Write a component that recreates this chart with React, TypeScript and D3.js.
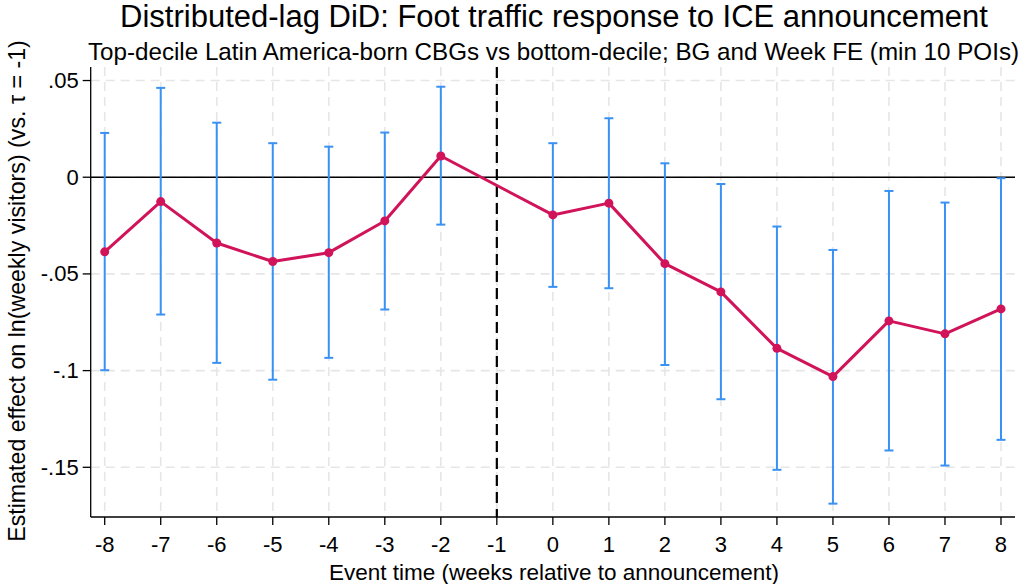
import React from "react";
import * as d3 from "d3";

// Event-study coefficients (reference week tau = -1 omitted)
const eventTimes = [-8, -7, -6, -5, -4, -3, -2, 0, 1, 2, 3, 4, 5, 6, 7, 8];
const estimates = [
  -0.0386, -0.0126, -0.034, -0.0436, -0.039, -0.0226, 0.011, -0.0195, -0.0134,
  -0.0447, -0.0593, -0.0885, -0.1031, -0.0743, -0.081, -0.0681,
];
const ciUpper = [
  0.0229, 0.0462, 0.0282, 0.0176, 0.0158, 0.0231, 0.0468, 0.0176, 0.0305,
  0.0072, -0.0035, -0.0255, -0.0376, -0.0071, -0.0131, -0.0005,
];
const ciLower = [
  -0.0998, -0.071, -0.096, -0.1047, -0.0934, -0.0684, -0.0245, -0.0567, -0.0574,
  -0.0971, -0.1148, -0.1513, -0.1688, -0.1413, -0.1491, -0.1358,
];

const xTicks = [-8, -7, -6, -5, -4, -3, -2, -1, 0, 1, 2, 3, 4, 5, 6, 7, 8];
const yTicks = [0.05, 0, -0.05, -0.1, -0.15];
const yTickLabels = [".05", "0", "-.05", "-.1", "-.15"];
const referencePeriod = -1;

const titleText = "Distributed-lag DiD: Foot traffic response to ICE announcement";
const subtitleText =
  "Top-decile Latin America-born CBGs vs bottom-decile; BG and Week FE (min 10 POIs)";
const xTitle = "Event time (weeks relative to announcement)";
const yTitle = "Estimated effect on ln(weekly visitors) (vs. \u03c4 = -1)";

const W = 1026;
const H = 584;
const plot = { left: 90.7, right: 1015, top: 67, bottom: 517 };
const FONT = "'Liberation Sans', Arial, sans-serif";
const LINE_COLOR = "#d1145a";
const CI_COLOR = "#3a91f4";
const GRID_COLOR = "#e6e6e6";

export default function App() {
  const x = d3.scaleLinear().domain([-8.25, 8.25]).range([plot.left, plot.right]);
  const y = d3.scaleLinear().domain([-0.1757, 0.057]).range([plot.bottom, plot.top]);

  const points = eventTimes.map((t, i) => ({
    t,
    est: estimates[i],
    lo: ciLower[i],
    hi: ciUpper[i],
  }));

  const linePath = d3
    .line<{ t: number; est: number }>()
    .x((d) => x(d.t))
    .y((d) => y(d.est))(points);

  const capHalf = 4.5;

  return (
    <svg
      width={W}
      height={H}
      style={{ position: "absolute", left: 0, top: 0, background: "#fff" }}
      fontFamily={FONT}
    >
      <rect x={0} y={0} width={W} height={H} fill="#fff" />

      {/* grid */}
      {xTicks.map((t) => (
        <line
          key={"gx" + t}
          x1={x(t)}
          x2={x(t)}
          y1={plot.top}
          y2={plot.bottom}
          stroke={GRID_COLOR}
          strokeWidth={1.6}
          strokeDasharray="9,6"
        />
      ))}
      {yTicks.map((v) => (
        <line
          key={"gy" + v}
          x1={plot.left}
          x2={plot.right}
          y1={y(v)}
          y2={y(v)}
          stroke={GRID_COLOR}
          strokeWidth={1.6}
          strokeDasharray="9,6"
        />
      ))}

      {/* zero reference line */}
      <line x1={plot.left} x2={plot.right} y1={y(0)} y2={y(0)} stroke="#000" strokeWidth={1.6} />

      {/* announcement week marker */}
      <line
        x1={x(referencePeriod)}
        x2={x(referencePeriod)}
        y1={plot.top}
        y2={plot.bottom}
        stroke="#000"
        strokeWidth={2.2}
        strokeDasharray="11,6"
      />

      {/* confidence intervals */}
      {points.map((p) => (
        <g key={"ci" + p.t} stroke={CI_COLOR} strokeWidth={2}>
          <line x1={x(p.t)} x2={x(p.t)} y1={y(p.hi)} y2={y(p.lo)} />
          <line x1={x(p.t) - capHalf} x2={x(p.t) + capHalf} y1={y(p.hi)} y2={y(p.hi)} />
          <line x1={x(p.t) - capHalf} x2={x(p.t) + capHalf} y1={y(p.lo)} y2={y(p.lo)} />
        </g>
      ))}

      {/* point estimates */}
      <path d={linePath ?? ""} fill="none" stroke={LINE_COLOR} strokeWidth={3} strokeLinejoin="round" />
      {points.map((p) => (
        <circle key={"pt" + p.t} cx={x(p.t)} cy={y(p.est)} r={4.5} fill={LINE_COLOR} />
      ))}

      {/* axes */}
      <line x1={plot.left} x2={plot.left} y1={plot.top} y2={plot.bottom} stroke="#000" strokeWidth={1.3} />
      <line x1={plot.left} x2={plot.right} y1={plot.bottom} y2={plot.bottom} stroke="#000" strokeWidth={1.3} />

      {yTicks.map((v, i) => (
        <g key={"yt" + v}>
          <line x1={plot.left - 8} x2={plot.left} y1={y(v)} y2={y(v)} stroke="#000" strokeWidth={1.3} />
          <text x={plot.left - 12} y={y(v) + 7.5} textAnchor="end" fontSize={22} fill="#000">
            {yTickLabels[i]}
          </text>
        </g>
      ))}
      {xTicks.map((t) => (
        <g key={"xt" + t}>
          <line x1={x(t)} x2={x(t)} y1={plot.bottom} y2={plot.bottom + 8} stroke="#000" strokeWidth={1.3} />
          <text x={x(t)} y={552} textAnchor="middle" fontSize={22} fill="#000">
            {t}
          </text>
        </g>
      ))}

      {/* titles */}
      <text x={554} y={27} textAnchor="middle" fontSize={31} fill="#000">
        {titleText}
      </text>
      <text x={553.5} y={60} textAnchor="middle" fontSize={24.2} fill="#000">
        {subtitleText}
      </text>
      <text x={554} y={580} textAnchor="middle" fontSize={22.5} fill="#000">
        {xTitle}
      </text>
      <text
        transform={`translate(25, 291) rotate(-90)`}
        textAnchor="middle"
        fontSize={23.2}
        fill="#000"
      >
        {yTitle}
      </text>
    </svg>
  );
}
